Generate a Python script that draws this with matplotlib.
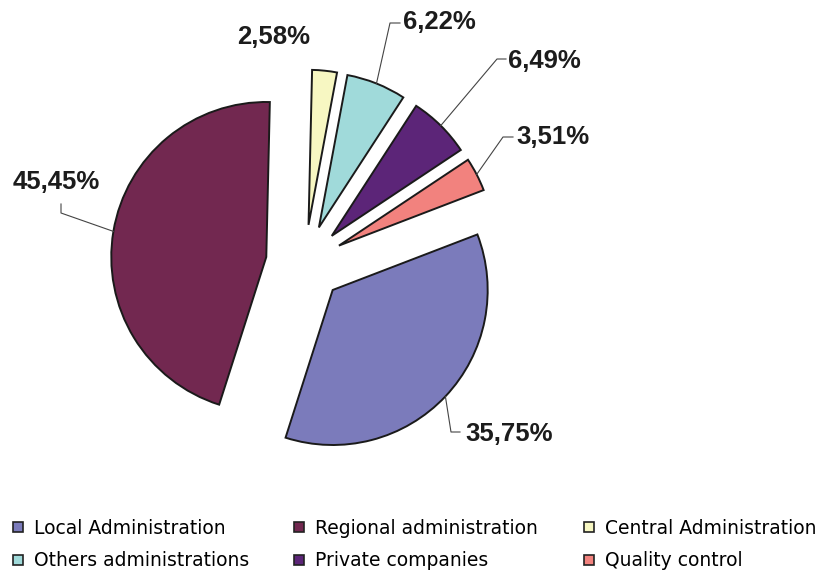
import numpy as np
from matplotlib import pyplot as plt
from matplotlib.lines import Line2D


# Data
categories = ['Local Administration', 'Regional administration', 'Central Administration',
              'Others administrations', 'Private companies', 'Quality control']
shares = [35.75, 45.45, 2.58, 6.22, 6.49, 3.51]
colors = ['#7B7BBB', '#722850', '#F7F7C2', '#A0DADA', '#5C2578', '#F2827E']
pct_labels = ['35,75%', '45,45%', '2,58%', '6,22%', '6,49%', '3,51%']

# Layout (pixels of the 817x572 image, y downwards)
W, H = 817, 572
CX, CY, R = 304.5, 263.4, 155.0

# text anchor, horizontal alignment, leader elbow, leader end near text
label_layout = [
    ((465, 434), 'left', (451, 432), (460, 432)),
    ((56, 182), 'center', (61, 213), (61, 204)),
    ((274, 37), 'center', None, None),
    ((403, 22), 'left', (390, 23), (400, 23)),
    ((508, 61), 'left', (497, 59), (506, 59)),
    ((516, 137), 'left', (503, 137), (513, 137)),
]


def px2data(p):
    return (p[0] - CX) / R, (CY - p[1]) / R


def main():
    fig = plt.figure(figsize=(W / 100, H / 100), dpi=100)
    ax = fig.add_axes([0, 0, 1, 1])

    wedges, _ = ax.pie(shares, colors=colors, explode=[0.25] * len(shares),
                       startangle=21, counterclock=False, radius=1,
                       wedgeprops=dict(edgecolor='#1a1a1a', linewidth=1.4))

    ax.set_xlim(-CX / R, (W - CX) / R)
    ax.set_ylim(-(H - CY) / R, CY / R)
    ax.set_aspect('equal')
    ax.axis('off')

    for w, text, (pos, ha, elbow, tip) in zip(wedges, pct_labels, label_layout):
        tx, ty = px2data(pos)
        ax.text(tx, ty, text, ha=ha, va='center', fontsize=18.5, fontweight='bold',
                family='Liberation Sans', color='#1c1c1c')
        if elbow is None:
            continue
        mid = np.deg2rad((w.theta1 + w.theta2) / 2)
        x0 = w.center[0] + w.r * np.cos(mid)
        y0 = w.center[1] + w.r * np.sin(mid)
        ex, ey = px2data(elbow)
        kx, ky = px2data(tip)
        ax.plot([x0, ex, kx], [y0, ey, ky], color='#444444', lw=0.8)

    handles = [Line2D([], [], marker='s', linestyle='none', markersize=7,
                      markerfacecolor=c, markeredgecolor='#222222', markeredgewidth=1.2)
               for c in colors]
    # column-wise order so that the legend reads row by row like the original
    order = [0, 3, 1, 4, 2, 5]
    fig.legend([handles[i] for i in order], [categories[i] for i in order],
               ncol=3, loc='upper left', bbox_to_anchor=(11 / W, 1 - 519 / H),
               frameon=False, handlelength=0.7, handletextpad=0.5,
               columnspacing=2.35, labelspacing=0.72, borderpad=0, borderaxespad=0,
               prop=dict(family='DejaVu Sans', size=13.5))

    fig.savefig('out.png', dpi=100)


if __name__ == '__main__':
    main()
